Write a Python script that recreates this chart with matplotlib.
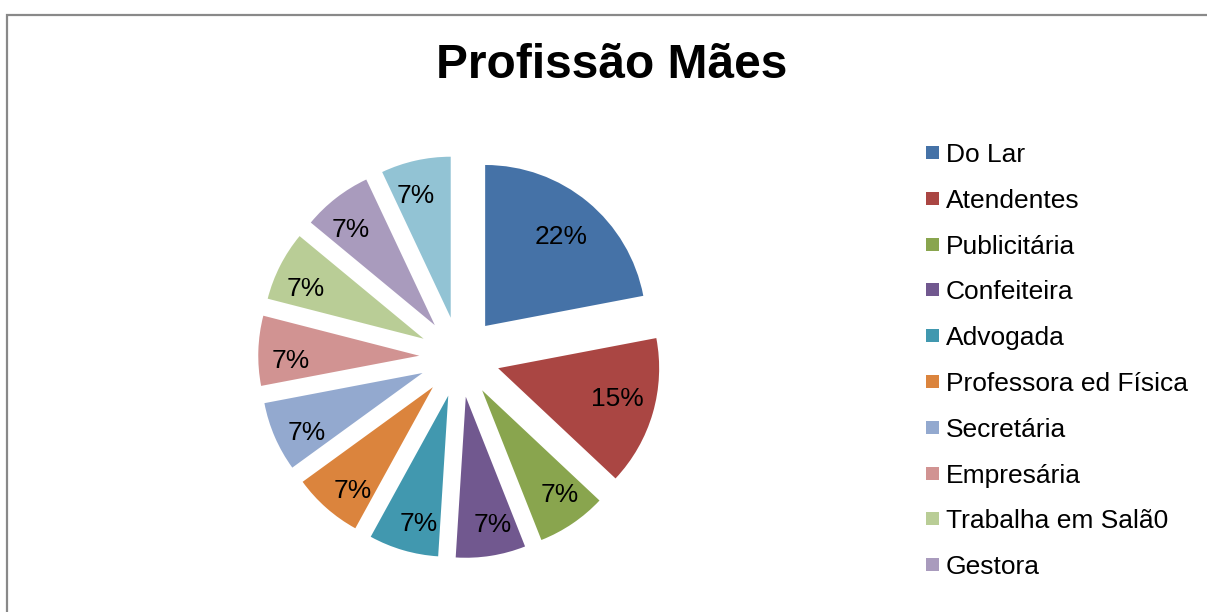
import matplotlib
matplotlib.use("Agg")
import matplotlib.pyplot as plt
from matplotlib.patches import Rectangle
import numpy as np

plt.rcParams['font.family'] = ['Liberation Sans', 'DejaVu Sans']

title = "Profissão Mães"
categories = ["Do Lar", "Atendentes", "Publicitária", "Confeiteira", "Advogada",
              "Professora ed Física", "Secretária", "Empresária", "Trabalha em Salã0",
              "Gestora", ""]
values = [22, 15, 7, 7, 7, 7, 7, 7, 7, 7, 7]
colors = ["#4572A7", "#AA4643", "#89A54E", "#71588F", "#4198AF", "#DB843D",
          "#93A9CF", "#D19392", "#B9CD96", "#A99BBD", "#92C3D4"]
legend_count = 10  # legend in the reference is clipped after 10 entries

W, H = 1207, 612
fig = plt.figure(figsize=(W / 100, H / 100), dpi=100)

# outer chart border (extends beyond right/bottom edge)
fig.patches.append(Rectangle((6.5 / W, -0.1), 1.2, (H - 15) / H + 0.1,
                             transform=fig.transFigure, fill=False,
                             edgecolor="#898989", linewidth=1.6))

fig.text(612 / W, 1 - 65 / H, title, ha="center", va="center",
         fontsize=34.5, fontweight="bold")

# pie axes
cx, cy, r = 459.5, 357.0, 161.0
half = 250.0
ax = fig.add_axes([(cx - half) / W, (H - cy - half) / H, 2 * half / W, 2 * half / H])

wedges, texts, autotexts = ax.pie(
    values, colors=colors, startangle=90, counterclock=False,
    explode=[0.25] * len(values), radius=1,
    autopct=lambda p: f"{p:.0f}%", pctdistance=0.78,
    textprops=dict(fontsize=19, color="black"),
    wedgeprops=dict(linewidth=0))

# place percentage labels similar to Excel's inside-label placement
total = float(sum(values))
for w, t, v in zip(wedges, autotexts, values):
    frac = v / total
    d = 0.74 if frac > 0.2 else (0.76 if frac > 0.1 else 0.80)
    th = np.deg2rad((w.theta1 + w.theta2) / 2 + (0 if frac > 0.2 else 3))
    wx, wy = w.center
    t.set_position((wx + d * np.cos(th), wy + d * np.sin(th)))
    t.set_verticalalignment("center_baseline")

L = half / r
ax.set_xlim(-L, L)
ax.set_ylim(-L, L)
ax.set_aspect("equal")
ax.axis("off")

# legend
x0 = 926
y0 = 152.5
step = 45.8
for i in range(legend_count):
    y = y0 + i * step
    fig.patches.append(Rectangle((x0 / W, 1 - (y + 6.5) / H), 13 / W, 13 / H,
                                 transform=fig.transFigure, facecolor=colors[i],
                                 edgecolor="none"))
    fig.text(946 / W, 1 - y / H, categories[i], ha="left", va="center_baseline",
             fontsize=19)

fig.savefig("out.png", dpi=100)
